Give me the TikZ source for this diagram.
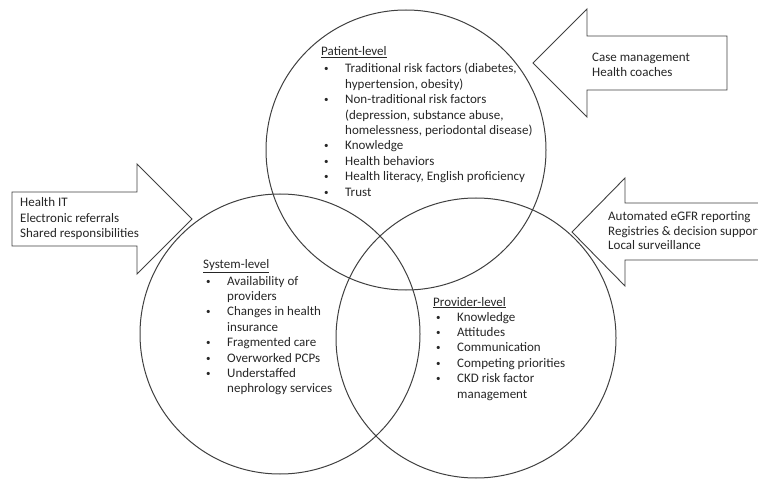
\documentclass[tikz,border=0pt]{standalone}
\usepackage{fontspec}
\setmainfont{Carlito}
\tikzset{
  ring/.style={draw=black!75, line width=1pt},
  bigarrow/.style={draw=black!75, line width=0.9pt, fill=white},
  item/.style={anchor=base west, inner sep=0pt, text=black!85,
    font=\fontsize{13}{15}\selectfont},
  dot/.style={item, font=\fontsize{9}{9}\selectfont, yshift=1pt},
}
\begin{document}
\begin{tikzpicture}[x=1pt,y=-1pt]
  \useasboundingbox (0,0) rectangle (758,481);
  % the three levels
  \draw [ring] (406,150) circle (140);
  \draw [ring] (280,334) circle (140);
  \draw [ring] (476,338) circle (140);
  % arrows with interventions
  \draw [bigarrow] (12,192) -- (137,192) -- (137,164) -- (192,219)
    -- (137,274) -- (137,246) -- (12,246) -- cycle;
  \draw [bigarrow] (727,36) -- (587,36) -- (587,9) -- (533,63)
    -- (587,117) -- (587,90) -- (727,90) -- cycle;
  \draw [bigarrow] (790,203) -- (625,203) -- (625,178) -- (572,232)
    -- (625,286) -- (625,260) -- (790,260) -- cycle;
  \node[item] (sys1) at (20,207) {Health IT};
  \node[item] (sys2) at (20,222.5) {Electronic referrals};
  \node[item] (sys3) at (20,238) {Shared responsibilities};
  \node[item] (pat1) at (592,62) {Case management};
  \node[item] (pat2) at (592,77) {Health coaches};
  \node[item] (pro1) at (608,221) {Automated eGFR reporting};
  \node[item] (pro2) at (608,235.5) {Registries \& decision support};
  \node[item] (pro3) at (608,250) {Local surveillance};
  % patient-level
  \node[item] (pathead) at (321,56) {\underline{Patient-level}};
  \foreach \t [count=\i] in {{Traditional risk factors (diabetes,},
      {hypertension, obesity)}, {Non-traditional risk factors},
      {(depression, substance abuse,}, {homelessness, periodontal disease)},
      Knowledge, Health behaviors, {Health literacy, English proficiency}, Trust}
    \node[item] (patl\i) at (345,{73+15.4*(\i-1)}) {\t};
  \foreach \i in {1,3,6,7,8,9}
    \node[dot] (patb\i) at ([xshift=-21pt]patl\i.base west) {\textbullet};
  % system-level
  \node[item] (syshead) at (203,269) {\underline{System-level}};
  \foreach \t [count=\i] in {Availability of, providers, Changes in health,
      insurance, Fragmented care, Overworked PCPs, Understaffed, nephrology services}
    \node[item] (sysl\i) at (227,{285+15.4*(\i-1)}) {\t};
  \foreach \i in {1,3,5,6,7}
    \node[dot] (sysb\i) at ([xshift=-21pt]sysl\i.base west) {\textbullet};
  % provider-level
  \node[item] (prohead) at (433,306) {\underline{Provider-level}};
  \foreach \t [count=\i] in {Knowledge, Attitudes, Communication,
      Competing priorities, CKD risk factor, management}
    \node[item] (prol\i) at (457,{321+15.4*(\i-1)}) {\t};
  \foreach \i in {1,...,5}
    \node[dot] (prob\i) at ([xshift=-21pt]prol\i.base west) {\textbullet};
\end{tikzpicture}
\end{document}
